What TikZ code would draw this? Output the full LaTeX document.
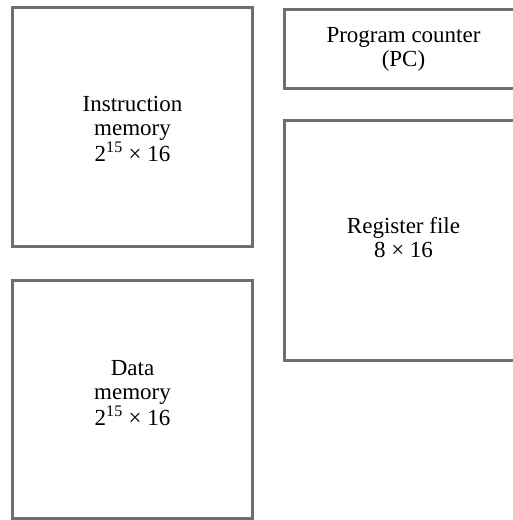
\documentclass[tikz,border=0pt]{standalone}
\usepackage{fontspec}
\setmainfont{Liberation Serif}
\begin{document}
\begin{tikzpicture}[x=1pt,y=-1pt,
  unit/.style={draw=boxgray,line width=3pt},
  lbl/.style={align=center,font=\fontsize{23}{24}\selectfont,inner sep=0pt}]
\definecolor{boxgray}{HTML}{6E6E6E}
\useasboundingbox (0,0) rectangle (513,520);
\clip (0,0) rectangle (513,520);
\draw[unit] (12.5,7) rectangle (252.5,246.5);
\draw[unit] (12.5,280) rectangle (252.5,518.5);
\draw[unit] (284.5,9.5) rectangle (522,88.5);
\draw[unit] (284.5,120) rectangle (522,360);
\node[lbl] (imem) at (132.5,129) {Instruction\\memory\\2\textsuperscript{15} × 16};
\node[lbl] (dmem) at (132.5,393) {Data\\memory\\2\textsuperscript{15} × 16};
\node[lbl] (pc) at (403.5,49) {Program counter\\(PC)};
\node[lbl] (rf) at (403.5,238) {Register file\\8 × 16};
\end{tikzpicture}
\end{document}
